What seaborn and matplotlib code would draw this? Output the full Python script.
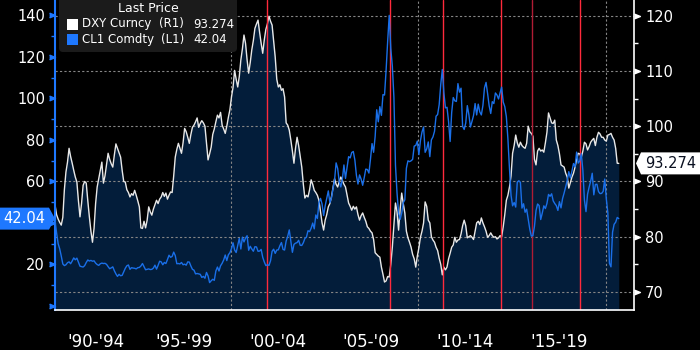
import numpy as np
import pandas as pd
import matplotlib
matplotlib.use("Agg")
import matplotlib.pyplot as plt
from matplotlib.patches import FancyBboxPatch, Rectangle, Polygon
import seaborn as sns

# ---------------- data (monthly) ----------------
first_month = "1990-08"
last_month = "2020-09"

dxy_values = [
    85.8, 84.0, 83.2, 82.6, 82.1, 83.5, 88.5, 91.7, 93.5, 96.0, 94.5, 93.3,
    92.0, 90.8, 89.9, 86.5, 83.6, 86.0, 89.3, 90.0, 89.7, 86.5, 83.6, 81.0,
    79.0, 81.5, 86.0, 89.0, 90.5, 92.0, 93.5, 89.7, 91.0, 93.0, 95.1, 94.0,
    93.2, 92.6, 94.8, 96.8, 96.0, 95.2, 94.4, 92.0, 90.0, 89.9, 88.5, 88.0,
    87.2, 87.8, 87.5, 88.4, 87.5, 86.5, 85.4, 81.6, 81.5, 82.8, 81.6, 83.0,
    85.4, 84.5, 83.9, 85.0, 85.8, 86.6, 86.0, 86.8, 87.2, 88.0, 87.3, 87.9,
    86.8, 87.5, 88.1, 88.0, 91.0, 94.4, 95.8, 96.9, 96.0, 95.1, 97.0, 99.6,
    99.0, 98.0, 96.9, 98.5, 99.8, 100.2, 100.8, 101.5, 99.8, 100.5, 101.0, 100.6,
    100.0, 97.0, 93.9, 95.0, 96.2, 98.5, 99.5, 100.8, 102.0, 101.5, 102.5, 100.2,
    99.5, 98.7, 100.0, 101.6, 103.0, 105.3, 107.0, 110.1, 108.5, 107.1, 109.0, 112.0,
    114.0, 116.5, 115.0, 112.0, 109.6, 111.5, 113.8, 115.5, 117.7, 118.5, 119.2, 117.0,
    115.0, 113.2, 115.6, 117.5, 118.5, 119.9, 119.0, 118.3, 115.5, 112.5, 108.5, 107.1,
    107.5, 106.5, 106.8, 105.3, 100.6, 100.2, 99.3, 97.5, 95.5, 93.3, 96.0, 98.0,
    96.5, 94.5, 92.6, 89.5, 87.0, 87.5, 87.2, 88.5, 90.3, 89.5, 88.4, 88.0,
    87.5, 86.6, 84.5, 82.5, 81.2, 83.0, 84.0, 85.4, 86.0, 87.2, 88.8, 90.5,
    89.5, 89.0, 90.0, 90.8, 90.2, 89.5, 89.0, 87.5, 86.1, 85.5, 84.8, 85.5,
    85.0, 85.4, 84.0, 83.0, 83.8, 84.3, 83.5, 82.8, 81.8, 81.5, 81.0, 80.7,
    79.5, 77.1, 76.8, 76.5, 76.3, 74.5, 73.2, 71.8, 72.0, 72.8, 72.7, 75.0,
    78.1, 82.0, 86.1, 84.5, 81.2, 85.0, 87.9, 86.0, 84.3, 81.0, 79.8, 79.0,
    78.1, 76.8, 76.0, 74.5, 76.5, 78.0, 79.9, 81.0, 82.5, 86.3, 85.5, 83.0,
    82.5, 80.0, 79.4, 79.0, 78.1, 77.5, 76.1, 75.0, 73.1, 74.5, 74.0, 74.5,
    76.0, 77.0, 78.1, 78.5, 79.9, 79.0, 79.4, 79.5, 80.5, 82.0, 83.0, 82.0,
    79.8, 80.0, 80.2, 79.9, 79.5, 81.0, 82.5, 82.8, 82.2, 83.4, 82.5, 81.8,
    81.0, 79.9, 80.2, 80.7, 80.2, 79.9, 80.0, 79.6, 79.8, 80.2, 80.0, 81.8,
    84.0, 86.6, 87.5, 89.0, 91.0, 95.1, 96.5, 98.4, 97.0, 96.2, 97.1, 96.5,
    96.2, 96.0, 96.9, 100.0, 99.0, 98.7, 98.2, 94.0, 93.0, 95.5, 96.0, 95.5,
    95.7, 95.3, 97.0, 98.9, 102.4, 101.5, 100.6, 100.5, 101.1, 97.5, 96.5, 95.0,
    93.0, 92.8, 92.6, 91.5, 90.8, 88.8, 89.8, 90.8, 91.5, 92.6, 94.0, 95.1,
    95.0, 94.4, 95.5, 97.1, 96.8, 95.7, 96.3, 97.1, 97.5, 97.8, 96.5, 98.0,
    98.9, 98.6, 98.0, 98.0, 97.5, 97.3, 98.4, 98.5, 98.7, 98.0, 97.5, 96.0,
    93.3, 93.274,
]

cl1_values = [
    41.0, 35.2, 30.0, 27.5, 24.0, 20.2, 19.4, 19.8, 20.8, 21.2, 20.3, 21.6,
    23.1, 22.2, 23.0, 21.0, 19.1, 18.9, 18.7, 19.4, 20.9, 22.1, 21.6, 21.9,
    21.5, 21.7, 20.6, 19.9, 19.5, 20.3, 20.6, 20.4, 20.5, 20.0, 18.9, 17.9,
    18.3, 18.8, 16.9, 15.4, 14.2, 15.2, 14.5, 14.7, 16.4, 18.1, 19.3, 19.7,
    17.6, 18.4, 18.2, 18.1, 17.8, 18.4, 18.5, 19.2, 20.4, 18.9, 17.4, 17.6,
    17.8, 17.5, 17.6, 18.2, 19.6, 17.7, 19.5, 21.5, 21.2, 19.8, 20.9, 20.4,
    22.3, 24.4, 23.4, 23.8, 25.9, 24.2, 20.3, 20.4, 20.2, 20.9, 19.8, 20.1,
    19.6, 21.2, 21.1, 19.2, 17.6, 17.2, 15.4, 15.6, 15.4, 15.2, 13.7, 14.2,
    13.3, 16.1, 14.4, 11.2, 12.1, 12.8, 12.3, 16.8, 18.7, 16.8, 19.3, 20.5,
    22.1, 24.5, 21.8, 24.6, 25.6, 27.6, 30.4, 26.9, 25.7, 29.0, 32.5, 27.4,
    33.1, 30.8, 32.7, 33.8, 26.8, 28.7, 27.4, 26.3, 28.5, 28.4, 26.3, 26.4,
    27.2, 23.4, 21.2, 19.4, 19.8, 19.5, 21.7, 26.3, 27.3, 25.3, 26.9, 27.0,
    29.0, 30.5, 27.2, 26.9, 31.2, 33.5, 36.6, 31.0, 25.8, 29.6, 30.2, 30.5,
    31.6, 29.2, 29.1, 30.4, 32.5, 33.1, 36.2, 35.8, 37.4, 39.9, 37.1, 43.8,
    42.1, 49.6, 51.8, 49.1, 43.5, 48.2, 51.8, 55.4, 49.7, 52.0, 56.5, 60.6,
    68.9, 66.2, 59.8, 57.3, 61.0, 67.9, 61.4, 66.6, 71.9, 71.3, 73.9, 74.4,
    70.3, 62.9, 58.7, 63.1, 61.1, 58.1, 61.8, 65.9, 65.7, 64.0, 70.7, 78.2,
    74.0, 81.7, 94.5, 88.7, 96.0, 91.8, 101.8, 101.6, 113.5, 127.4, 140.0, 124.1,
    115.5, 100.6, 67.8, 54.4, 44.6, 41.7, 44.8, 49.7, 51.1, 66.3, 69.9, 69.5,
    69.9, 70.6, 77.0, 77.3, 79.4, 72.9, 79.7, 83.8, 86.2, 74.0, 75.6, 79.0,
    71.9, 80.0, 81.4, 84.1, 91.4, 92.2, 97.0, 106.7, 113.9, 102.7, 95.4, 95.7,
    88.8, 79.2, 93.2, 100.4, 98.8, 98.5, 107.1, 103.0, 104.9, 86.5, 85.0, 88.1,
    96.5, 92.2, 86.2, 88.9, 91.8, 97.5, 92.0, 97.2, 93.5, 92.0, 96.6, 105.0,
    107.7, 102.3, 96.4, 92.7, 98.4, 97.5, 102.6, 101.6, 99.7, 102.7, 105.4, 98.2,
    96.0, 91.2, 80.5, 66.2, 53.3, 48.2, 49.8, 47.6, 59.6, 60.3, 59.5, 47.1,
    49.2, 45.1, 46.6, 41.7, 37.0, 33.6, 33.8, 38.3, 45.9, 49.1, 48.3, 41.6,
    44.7, 48.2, 46.9, 49.4, 53.7, 52.8, 54.0, 50.6, 49.3, 48.3, 46.0, 50.2,
    47.2, 51.7, 54.4, 57.4, 60.4, 64.7, 61.6, 64.9, 68.6, 67.0, 74.1, 68.8,
    69.8, 73.3, 65.3, 50.9, 45.4, 53.8, 57.2, 60.1, 63.9, 53.5, 58.5, 58.6,
    55.1, 54.1, 54.2, 55.2, 61.1, 51.6, 44.8, 20.5, 18.8, 35.5, 39.3, 40.3,
    42.6, 42.04,
]

event_dates = ["2001-12-12", "2008-07-01", "2011-05-08", "2014-05-30", "2016-02-05", "2018-08-28"]
decade_lines = [2000, 2010, 2020]
period_starts = [1990, 1995, 2000, 2005, 2010, 2015]
period_labels = ["'90-'94", "'95-'99", "'00-'04", "'05-'09", "'10-'14", "'15-'19"]
boundaries = [1995, 2000, 2005, 2010, 2015, 2020]
left_ticks = [0, 20, 40, 60, 80, 100, 120, 140]
right_ticks = [70, 80, 90, 100, 110, 120]
series_names = ["DXY Curncy", "CL1 Comdty"]
axis_tags = ["(R1)", "(L1)"]
legend_title = "Last Price"

# ---------------- styling ----------------
sns.set_theme(style="dark", rc={"axes.facecolor": "black", "figure.facecolor": "black"})
plt.rcParams["font.family"] = ["DejaVu Sans"]

NAVY = "#031d3a"
BLUE_LINE = "#1a6fe8"
BLUE_AX = "#1e78ff"
WHITE_LINE = "#e8e8e8"
GRID = "#858585"
RED = "#ff2a3c"
DARK_RED = "#b01c34"

W, H = 700, 350
fig = plt.figure(figsize=(W / 100, H / 100), dpi=100)
fig.patch.set_facecolor("black")

months = pd.period_range(first_month, last_month, freq="M")
t = months.year.values + (months.month.values - 0.5) / 12.0
df = pd.DataFrame({"t": t, "DXY": dxy_values, "CL1": cl1_values})

ax_l = fig.add_axes([54.5 / W, 40 / H, 579.5 / W, 310 / H])
ax_r = ax_l.twinx()
ax_l.set_zorder(ax_r.get_zorder() + 1)
ax_l.patch.set_visible(False)

XLIM = (1990.598, 2021.52)
YL = (-2.0, 147.4)
YR = (66.74, 122.84)

# right axis: DXY area + line
ax_r.set_ylim(*YR)
ax_r.fill_between(df["t"], df["DXY"], YR[0], color=NAVY, lw=0, zorder=1)
sns.lineplot(data=df, x="t", y="DXY", ax=ax_r, color=WHITE_LINE, linewidth=1.0, zorder=3)
ax_r.set_ylim(*YR)

# grid
ax_r.grid(False)
ax_l.grid(False)
for v in right_ticks:
    ax_r.axhline(v, color=GRID, lw=0.8, linestyle=(0, (2, 2)), zorder=1.6)
for d in decade_lines:
    ax_r.axvline(d, color=GRID, lw=0.8, linestyle=(0, (2, 2)), zorder=1.6)

# left axis: CL1 line + event lines
ev = pd.to_datetime(event_dates)
ev_t = ev.year + (ev.dayofyear - 1) / np.where(ev.is_leap_year, 366, 365)
for i, e in enumerate(ev_t):
    ax_l.axvline(e, color=DARK_RED if i == 4 else RED, lw=1.0, zorder=2)
sns.lineplot(data=df, x="t", y="CL1", ax=ax_l, color=BLUE_LINE, linewidth=1.0, zorder=3)

ax_l.set_xlim(*XLIM)
ax_r.set_xlim(*XLIM)
ax_l.set_ylim(*YL)
ax_l.set_xlabel("")
ax_l.set_ylabel("")
ax_r.set_xlabel("")
ax_r.set_ylabel("")

# spines
for s in ["top", "right"]:
    ax_l.spines[s].set_visible(False)
ax_l.spines["left"].set_color(BLUE_AX)
ax_l.spines["left"].set_linewidth(1.5)
ax_l.spines["bottom"].set_color("white")
ax_l.spines["bottom"].set_linewidth(1.2)
for s in ["top", "left", "bottom"]:
    ax_r.spines[s].set_visible(False)
ax_r.spines["right"].set_color("white")
ax_r.spines["right"].set_linewidth(1.2)

# x axis: period separators and centred labels
ax_l.set_xticks(boundaries)
ax_l.set_xticklabels([""] * len(boundaries))
centers = [(max(s, XLIM[0]) + min(s + 5, XLIM[1])) / 2 for s in period_starts]
ax_l.set_xticks(centers, minor=True)
ax_l.set_xticklabels(period_labels, minor=True)
ax_l.tick_params(axis="x", which="major", length=29, width=1.0, color="#b8b8b8", direction="out")
ax_l.tick_params(axis="x", which="minor", length=0, pad=16.5, labelsize=12, labelcolor="white")

last_dxy = dxy_values[-1]
last_cl1 = cl1_values[-1]

# left y axis (the label hidden under the last-value tag is left blank)
ax_l.set_yticks(left_ticks)
ax_l.set_yticklabels(["" if (v == 0 or abs(v - last_cl1) < 8) else str(v) for v in left_ticks])
ax_l.set_yticks([v + 10 for v in left_ticks[:-1]], minor=True)
ax_l.tick_params(axis="y", which="major", colors=BLUE_AX, labelcolor="white", labelsize=10.5,
                 length=4.3, width=1, pad=2.5, direction="out")
ax_l.tick_params(axis="y", which="minor", colors=BLUE_AX, length=3, width=1, direction="out")
left_marker = [(-1, 0.4), (0, 0), (-1, -0.4)]
for tk in ax_l.yaxis.get_major_ticks():
    tk.tick1line.set_marker(left_marker)
    tk.tick1line.set_markersize(8.5)
    tk.tick1line.set_markerfacecolor(BLUE_AX)
    tk.tick1line.set_markeredgecolor(BLUE_AX)

# right y axis
ax_r.set_yticks(right_ticks)
ax_r.set_yticklabels([str(v) for v in right_ticks])
ax_r.set_yticks([v + 5 for v in right_ticks[:-1]], minor=True)
ax_r.tick_params(axis="y", which="major", colors="white", labelcolor="white", labelsize=10.5,
                 length=4.3, width=1, pad=3.6, direction="out")
ax_r.tick_params(axis="y", which="minor", colors="white", length=3, width=1, direction="out")
right_marker = [(0, 0.4), (1, 0), (0, -0.4)]
for tk in ax_r.yaxis.get_major_ticks():
    tk.tick2line.set_marker(right_marker)
    tk.tick2line.set_markersize(8.5)
    tk.tick2line.set_markerfacecolor("white")
    tk.tick2line.set_markeredgecolor("white")

# ---------------- overlay (legend + last value tags), pixel coordinates ----------------
ov = fig.add_axes([0, 0, 1, 1])
ov.set_zorder(20)
ov.set_xlim(0, W)
ov.set_ylim(H, 0)
ov.axis("off")
ov.patch.set_visible(False)

ov.add_patch(FancyBboxPatch((59, -10), 178, 62, boxstyle="round,pad=0,rounding_size=4",
                            fc="#1b1b1b", ec="none"))
ov.text(148, 8, legend_title, ha="center", va="center", color="white", fontsize=9)
rows = [(series_names[0], axis_tags[0], f"{last_dxy:.3f}", "white", 24),
        (series_names[1], axis_tags[1], f"{last_cl1:.2f}", BLUE_AX, 39.5)]
for name, tag, val, col, yy in rows:
    ov.add_patch(Rectangle((66.5, yy - 5.5), 11, 11, fc=col, ec="none"))
    ov.text(81.7, yy, name, ha="left", va="center", color="white", fontsize=8.5)
    ov.text(184, yy, tag, ha="right", va="center", color="white", fontsize=8.5)
    ov.text(193, yy, val, ha="left", va="center", color="white", fontsize=8.5)

# tags at the axes
fig.canvas.draw()
yl_disp = ax_l.transData.transform((XLIM[0], last_cl1))[1]
yr_disp = ax_r.transData.transform((XLIM[1], last_dxy))[1]
yl = H - yl_disp
yr = H - yr_disp
xl = ax_l.transAxes.transform((0, 0))[0]
xr = ax_l.transAxes.transform((1, 0))[0]
hh = 11
ov.add_patch(Polygon([(0, yl - hh), (xl - 5.5, yl - hh), (xl + 0.5, yl), (xl - 5.5, yl + hh), (0, yl + hh)],
                     closed=True, fc=BLUE_AX, ec="none"))
ov.text((xl - 5.5) / 2, yl, f"{last_cl1:.2f}", ha="center", va="center", color="white", fontsize=10.5)
ov.add_patch(Polygon([(xr + 2, yr), (xr + 7, yr - hh), (W, yr - hh), (W, yr + hh), (xr + 7, yr + hh)],
                     closed=True, fc="white", ec="none"))
ov.text((xr + 7 + W) / 2, yr, f"{last_dxy:.3f}", ha="center", va="center", color="#0a1020", fontsize=10.5)

fig.savefig("out.png", dpi=100, facecolor="black")
